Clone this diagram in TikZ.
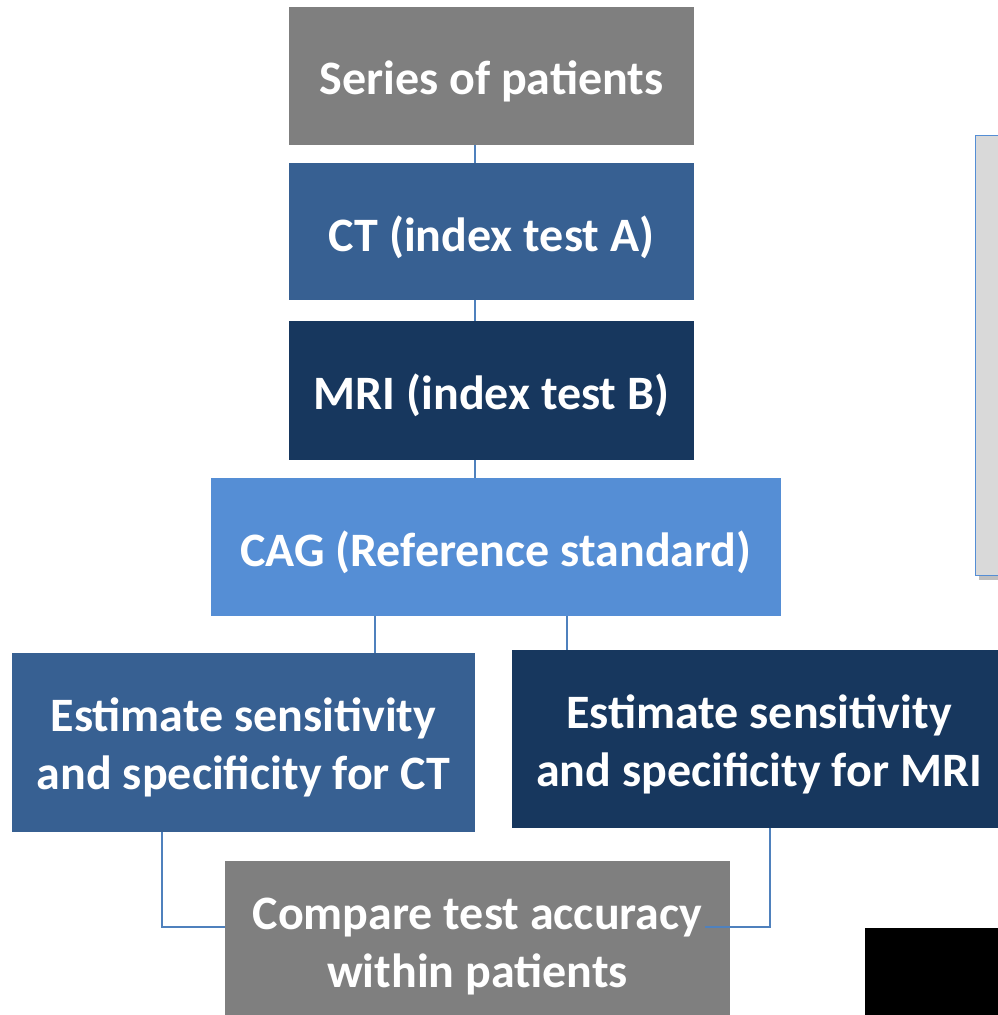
\documentclass[tikz,border=0pt]{standalone}
\usepackage{fontspec}
\setmainfont{Carlito}
\definecolor{boxgray}{HTML}{7F7F7F}
\definecolor{midblue}{HTML}{376092}
\definecolor{darkblue}{HTML}{17375E}
\definecolor{lightblue}{HTML}{558ED5}
\definecolor{linkblue}{HTML}{4F81BD}
\definecolor{panelgray}{HTML}{D9D9D9}
\tikzset{
  flowbox/.style={rectangle, inner sep=0pt},
  flowtext/.style={inner sep=0pt, align=center, text=white, yshift=-5pt,
    font=\fontsize{48}{58}\selectfont\bfseries},
  link/.style={draw=linkblue, line width=2.2pt},
}
\begin{document}
\begin{tikzpicture}[x=1pt, y=-1pt]
\useasboundingbox (0,0) rectangle (998,1015);
\begin{scope}
\clip (0,0) rectangle (998,1015);
% side panel with shadow
\fill[black, opacity=0.25] (979,140) rectangle (1010,580);
\draw[fill=panelgray, draw=lightblue, line width=1pt] (975,135) rectangle (1010,575);
% black block at the lower right
\fill[black] (865,928) rectangle (1010,1020);

% flow boxes
\node[flowbox, fill=boxgray, minimum width=405pt, minimum height=138pt] (series) at (491.5,76) {};
\node[flowbox, fill=midblue, minimum width=405pt, minimum height=137pt] (ct) at (491.5,231.5) {};
\node[flowbox, fill=darkblue, minimum width=405pt, minimum height=139pt] (mri) at (491.5,390.5) {};
\node[flowbox, fill=lightblue, minimum width=570pt, minimum height=138pt] (cag) at (496,547) {};
\node[flowbox, fill=midblue, minimum width=463pt, minimum height=179pt] (estct) at (243.5,742.5) {};
\node[flowbox, fill=darkblue, minimum width=486pt, minimum height=178pt] (estmri) at (755,739) {};
\node[flowbox, fill=boxgray, minimum width=505pt, minimum height=162pt] (compare) at (477.5,942) {};

% box texts
\node[flowtext] (series-t) at (series.center) {Series of patients};
\node[flowtext, yshift=-1pt] (ct-t) at (ct.center) {CT (index test A)};
\node[flowtext] (mri-t) at (mri.center) {MRI (index test B)};
\node[flowtext] (cag-t) at (cag.center) {CAG (Reference standard)};
\node[flowtext] (estct-t) at (estct.center) {Estimate sensitivity\\and specificity for CT};
\node[flowtext, xshift=4pt] (estmri-t) at (estmri.center) {Estimate sensitivity\\and specificity for MRI};
\node[flowtext] (compare-t) at (compare.center) {Compare test accuracy\\within patients};

% connectors
\coordinate (spine) at (475,0);
\draw[link] (spine |- series.south) -- (spine |- ct.north);
\draw[link] (spine |- ct.south) -- (spine |- mri.north);
\draw[link] (spine |- mri.south) -- (spine |- cag.north);
\coordinate (cl) at (375,0);
\coordinate (cr) at (567,0);
\draw[link] (cl |- cag.south) -- (cl |- estct.north);
\draw[link] (cr |- cag.south) -- (cr |- estmri.north);
\coordinate (jl) at (162,927);
\coordinate (jr) at (770,927);
\coordinate (je) at (705,927);
\draw[link] (jl |- estct.south) -- (jl) -- (jl -| compare.west);
\draw[link] (jr |- estmri.south) -- (jr) -- (je);
\end{scope}
\end{tikzpicture}
\end{document}
